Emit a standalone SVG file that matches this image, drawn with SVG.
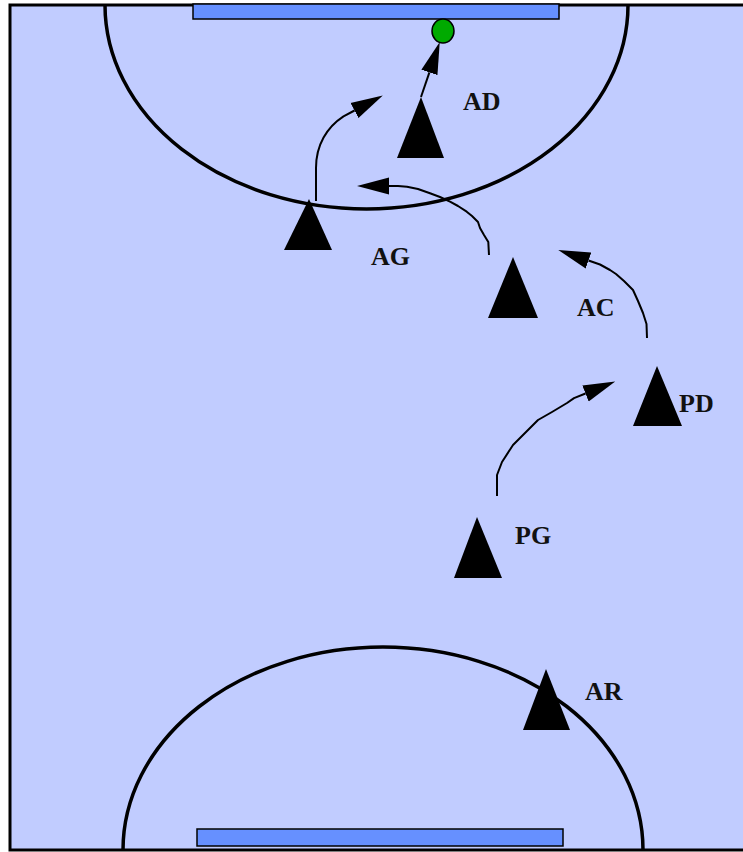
<svg xmlns="http://www.w3.org/2000/svg" width="743" height="852" viewBox="0 0 743 852">
<style>
.line{fill:none;stroke:#000;stroke-width:3.5}
.goal{fill:#6690FF;stroke:#000;stroke-width:1.5}
.player{fill:#000}
.lbl{font-family:"Liberation Serif","Times New Roman",serif;font-weight:bold;font-size:26px;fill:#111}
.run{fill:none;stroke:#000;stroke-width:2;stroke-linejoin:round;marker-end:url(#ah)}
</style>
<defs>
<marker id="ah" markerUnits="userSpaceOnUse" markerWidth="33" markerHeight="18" refX="0" refY="9" orient="auto">
<path d="M0,0.5 L32,9 L0,17.5 Z" fill="#000"/>
</marker>
</defs>
<rect width="743" height="852" fill="#fff"/>
<g id="field">
<rect x="10" y="5" width="760" height="845" fill="#C1CCFF" stroke="#000" stroke-width="3"/>
<path class="line" d="M105,5 A261.5,204 0 0 0 628,5"/>
<path class="line" d="M123,850 A260,203 0 0 1 643,850"/>
<rect class="goal" x="193" y="4" width="366" height="15"/>
<rect class="goal" x="197" y="829" width="366" height="17"/>
</g>
<g id="ball"><ellipse cx="443" cy="31" rx="11" ry="12" fill="#00AA00" stroke="#000" stroke-width="1.5"/></g>
<g id="connectors">
<path class="run" d="M421,97 L429.4,72.4"/>
<path class="run" d="M316,201 L316,168 C316,145 327,127 343.5,116.3 L354.5,110.5"/>
<path class="run" d="M489,255 L488.3,242 L484,235 L480,228 L478,222 L472,216 L466.7,211.7 L458,206 L450,201.7 L440,197 L430,193.3 L418,189 L407,186.7 L398,186 L389,186"/>
<path class="run" d="M647,338 L646.5,324 L643,313 L638,301 L633,290 L624,281 L616,274 L610,270 L600,264.5 L588.5,260.5"/>
<path class="run" d="M497,496 L497,475 L502,462 L513,445 L526,432 L538,420 L552,412 L567,403 L574,398.1 L585.5,393.5"/>
</g>
<g id="AD"><polygon class="player" points="421,97 444,158 397,158"/><text class="lbl" x="463" y="110">AD</text></g>
<g id="AG"><polygon class="player" points="309,199 332,250 284,250"/><text class="lbl" x="371" y="265">AG</text></g>
<g id="AC"><polygon class="player" points="513,257 538,318 488,318"/><text class="lbl" x="577" y="316">AC</text></g>
<g id="PD"><polygon class="player" points="657,366 682,426 633,426"/><text class="lbl" x="679" y="412">PD</text></g>
<g id="PG"><polygon class="player" points="477,517 502,578 454,578"/><text class="lbl" x="515" y="544">PG</text></g>
<g id="AR"><polygon class="player" points="546,669 570,730 523,730"/><text class="lbl" x="585" y="700">AR</text></g>
</svg>
